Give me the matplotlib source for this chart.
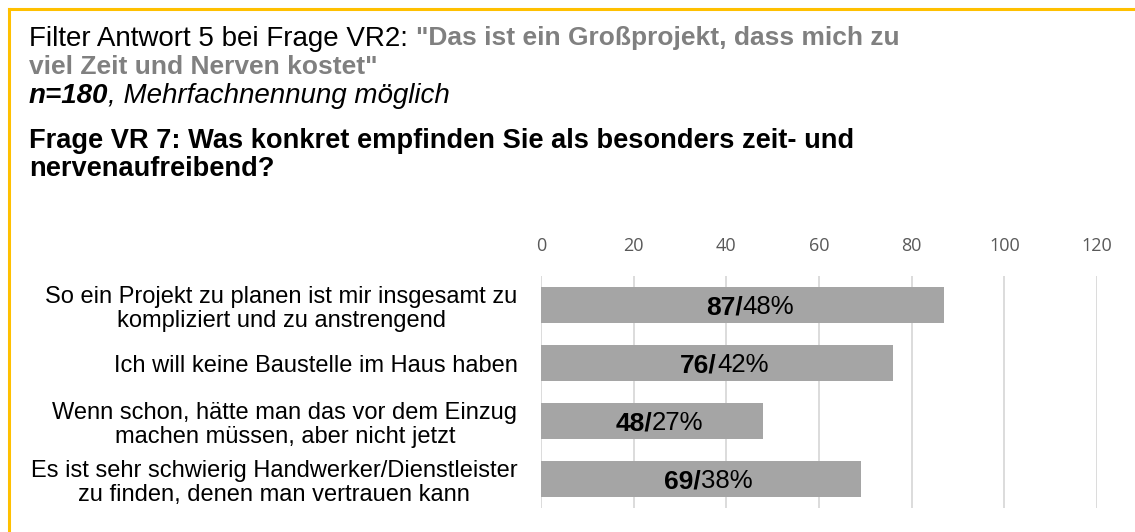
import matplotlib.pyplot as plt
from matplotlib.lines import Line2D

# data
categories = [
    "So ein Projekt zu planen ist mir insgesamt zu\nkompliziert und zu anstrengend",
    "Ich will keine Baustelle im Haus haben",
    "Wenn schon, hätte man das vor dem Einzug\nmachen müssen, aber nicht jetzt",
    "Es ist sehr schwierig Handwerker/Dienstleister\nzu finden, denen man vertrauen kann",
]
counts = [87, 76, 48, 69]
percents = [48, 42, 27, 38]
xticks = [0, 20, 40, 60, 80, 100, 120]

plt.rcParams['font.family'] = ['Liberation Sans', 'DejaVu Sans']

fig = plt.figure(figsize=(11.35, 5.32), dpi=100)
W, H = 1135, 532
renderer = fig.canvas.get_renderer()


def run_text(x, y, parts):
    # draw pieces of text one after another on one line (pixel coords)
    for txt, kw in parts:
        t = fig.text(x / W, 1 - y / H, txt, va='center_baseline', **kw)
        x += t.get_window_extent(renderer).width


# yellow frame (top and left)
fig.add_artist(Line2D([8.5 / W, 1], [1 - 8.5 / H, 1 - 8.5 / H], color='#FFC000', lw=2.2))
fig.add_artist(Line2D([8.5 / W, 8.5 / W], [0, 1 - 8.5 / H], color='#FFC000', lw=2.2))

# header texts
grey = '#808080'
run_text(29, 36, [('Filter Antwort 5 bei Frage VR2: ', dict(fontsize=20)),
                  ('"Das ist ein Großprojekt, dass mich zu',
                   dict(fontsize=19, color=grey, fontweight='bold'))])
run_text(29, 64, [('viel Zeit und Nerven kostet"', dict(fontsize=19, color=grey, fontweight='bold'))])
run_text(29, 93, [('n=180', dict(fontsize=20, fontweight='bold', style='italic')),
                  (', Mehrfachnennung möglich', dict(fontsize=20, style='italic'))])
run_text(29, 138, [('Frage VR 7: Was konkret empfinden Sie als besonders zeit- und',
                    dict(fontsize=19.6, fontweight='bold'))])
run_text(29, 166, [('nervenaufreibend?', dict(fontsize=19.6, fontweight='bold'))])

# chart axes
left, right = 541 / W, 1097 / W
top, bottom = 1 - 276 / H, 1 - 508 / H
ax = fig.add_axes([left, bottom, right - left, top - bottom])

y = list(range(len(categories)))
ax.barh(y, counts, height=0.62, color='#A5A5A5', zorder=2)
ax.set_xlim(0, 120)
ax.set_ylim(len(categories) - 0.5, -0.5)
ax.set_xticks(xticks)
ax.xaxis.tick_top()
ax.tick_params(axis='x', length=0, pad=15, labelsize=13, labelcolor='#595959')
for lab in ax.get_xticklabels():
    lab.set_fontfamily(['Open Sans', 'DejaVu Sans'])
ax.set_yticks(y)
ax.set_yticklabels(categories, fontsize=17, ha='right', multialignment='center',
                   linespacing=1.12)
ax.tick_params(axis='y', length=0, pad=17)
ax.grid(axis='x', color='#D9D9D9', lw=1.3, zorder=0)
for s in ax.spines.values():
    s.set_visible(False)

for i, (c, p) in enumerate(zip(counts, percents)):
    ax.text(c / 2, i, f'{c}/', ha='right', va='center_baseline', fontsize=19,
            fontweight='bold', zorder=3)
    ax.text(c / 2, i, f'{p}%', ha='left', va='center_baseline', fontsize=18.5, zorder=3)

fig.savefig('out.png', dpi=100)
